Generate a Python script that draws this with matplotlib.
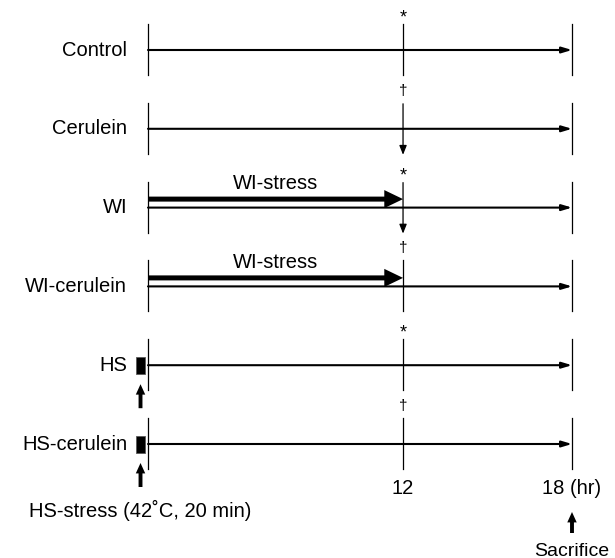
import numpy as np
import matplotlib.pyplot as plt
from matplotlib.patches import Rectangle

plt.rcParams['font.family'] = ['Liberation Sans', 'DejaVu Sans']

# experimental groups (top to bottom)
groups = ['Control', 'Cerulein', 'WI', 'WI-cerulein', 'HS', 'HS-cerulein']
marks = ['*', '\u2020', '*', '\u2020', '*', '\u2020']
arrow_at_12 = [False, True, True, False, False, False]
wi_stress = [False, False, True, True, False, False]
hs_stress = [False, False, False, False, True, True]

t_start = 0
t_wi_end = 12
t_end = 18
tick_times = [12, 18]
tick_labels = ['12', '18 (hr)']

# schematic is not to scale: last 6 h drawn wider than first 12
stretch = 1.325


def fwd(h):
    h = np.asarray(h, dtype=float)
    return np.where(h <= 12, h, 12 + (h - 12) * stretch)


def inv(u):
    u = np.asarray(u, dtype=float)
    return np.where(u <= 12, u, 12 + (u - 12) / stretch)


W, H = 615, 558
hr_px = 21.25  # pixels per hour in the first segment

fig = plt.figure(figsize=(W / 100, H / 100), dpi=100)
ax = fig.add_axes([0, 0, 1, 1])
ax.set_xscale('function', functions=(fwd, inv))
ax.set_xlim(float(inv(-148 / hr_px)), float(inv(fwd(t_end) + 43 / hr_px)))
ax.set_ylim(H, 0)
ax.axis('off')

fs = 14.5
y0, dy = 50, 78.8
line_arrow = dict(arrowstyle='-|>,head_length=0.6,head_width=0.18', color='k',
                  lw=1.5, shrinkA=0, shrinkB=0, mutation_scale=10)
down_arrow = dict(arrowstyle='-|>,head_length=0.55,head_width=0.22', color='k',
                  lw=0.9, shrinkA=0, shrinkB=0, mutation_scale=10)
thick_arrow = dict(arrowstyle='simple,head_length=1.35,head_width=1.3,tail_width=0.36',
                   fc='k', ec='none', shrinkA=0, shrinkB=0, mutation_scale=10)
up_arrow = dict(arrowstyle='simple,head_length=0.75,head_width=0.68,tail_width=0.28',
                fc='k', ec='none', shrinkA=0, shrinkB=0, mutation_scale=10)

for i, g in enumerate(groups):
    y = y0 + i * dy
    for t in (t_start, t_end):
        ax.plot([t, t], [y - 26, y + 25], color='k', lw=0.9)
    if arrow_at_12[i]:
        ax.annotate('', xy=(12, y + 26), xytext=(12, y - 25), arrowprops=down_arrow)
    else:
        ax.plot([12, 12], [y - 26, y + 25], color='k', lw=0.9)
    # time line to sacrifice
    ax.annotate('', xy=(t_end, y), xytext=(t_start, y), arrowprops=line_arrow)
    if marks[i] == '*':
        ax.text(12, y - 32, marks[i], ha='center', va='center', fontsize=13)
    else:
        ax.text(12, y - 38, marks[i], ha='center', va='center', fontsize=11)
    ax.annotate(g, xy=(t_start, y), xytext=(-15, 0), textcoords='offset points',
                ha='right', va='center', fontsize=fs)

    if wi_stress[i]:
        ax.annotate('', xy=(t_wi_end, y - 8.5), xytext=(t_start, y - 8.5),
                    arrowprops=thick_arrow)
        ax.text(t_wi_end / 2, y - 24, 'WI-stress', ha='center', va='center', fontsize=fs)

    if hs_stress[i]:
        ax.add_patch(Rectangle((-12 / hr_px, y - 8.5), 9 / hr_px, 17,
                               fc='k', ec='0.35', lw=0.6))
        ax.annotate('', xy=(-7.5 / hr_px, y + 19), xytext=(-7.5 / hr_px, y + 43),
                    arrowprops=up_arrow)

y_last = y0 + (len(groups) - 1) * dy
for t, lab in zip(tick_times, tick_labels):
    ax.text(t, y_last + 44, lab, ha='center', va='center', fontsize=fs)

ax.text(-7.5 / hr_px, y_last + 66, 'HS-stress (42\u02daC, 20 min)',
        ha='center', va='center', fontsize=fs)

ax.annotate('', xy=(t_end, y_last + 68), xytext=(t_end, y_last + 89), arrowprops=up_arrow)
ax.text(t_end, y_last + 107, 'Sacrifice', ha='center', va='center', fontsize=14)

fig.savefig('out.png', dpi=100)
